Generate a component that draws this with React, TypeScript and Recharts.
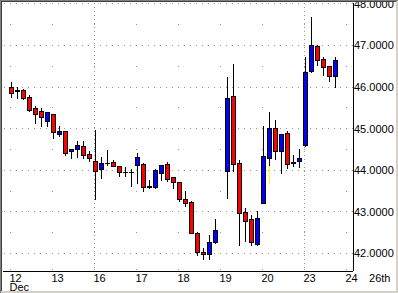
import React from 'react';
import { ComposedChart, Bar, XAxis, YAxis, CartesianGrid } from 'recharts';

// Hourly candles, one slot per hour (7 slots per trading day); null = no trade in that slot
const opens = [
  45.98, 45.91, 45.92, 45.75, 45.48, 45.41, 45.18,
  45.34, 44.85, 44.93, 44.45, 44.50, 44.58, 44.38,
  44.21, 44.03, 44.17, 44.18, 44.09, 43.94, 43.94,
  44.11, 44.14, 43.60, 43.58, 43.93, 44.14, 43.82,
  43.70, 43.30, 43.23, 42.48, 42.03, 41.98, 42.26,
  null, 43.98, 45.78, 44.16, 42.99, 42.82, 42.22,
  43.21, 44.28, 45.01, 44.44, 44.89, 44.16, 44.20,
  44.60, 46.38, 46.98, 46.66, 46.49, 46.25,
];
const highs = [
  46.12, 45.98, 45.93, 45.80, 45.53, 45.48, 45.39,
  45.35, 45.06, 44.94, 44.51, 44.70, 44.68, 44.44,
  44.96, 44.31, 44.48, 44.24, 44.10, 44.06, 44.02,
  44.40, 44.16, 43.76, 44.01, 44.12, 44.19, 43.83,
  43.71, 43.48, 43.26, 42.51, 42.13, 42.44, 42.81,
  null, 46.22, 46.54, 44.23, 43.08, 42.92, 43.02,
  45.06, 45.40, 45.20, 44.87, 44.94, 44.36, 44.50,
  46.72, 47.66, 47.01, 46.71, 46.50, 46.71,
];
const lows = [
  45.76, 45.73, 45.70, 45.41, 45.13, 45.06, 45.06,
  44.76, 44.80, 44.36, 44.28, 44.31, 44.29, 44.20,
  43.30, 43.81, 44.12, 44.08, 43.86, 43.84, 43.62,
  43.68, 43.50, 43.56, 43.57, 43.76, 43.72, 43.56,
  43.24, 43.14, 42.47, 41.96, 41.86, 41.86, 42.25,
  null, 43.33, 43.98, 42.18, 42.28, 42.18, 42.20,
  43.19, 43.69, 44.27, 43.93, 44.05, 44.10, 44.06,
  44.58, 46.36, 46.52, 46.28, 46.14, 45.98,
];
const closes = [
  45.84, 45.90, 45.72, 45.43, 45.34, 45.28, 45.38,
  44.90, 44.94, 44.40, 44.50, 44.60, 44.35, 44.28,
  43.98, 44.17, 44.17, 44.10, 43.94, 43.94, 43.94,
  44.30, 43.58, 43.58, 44.00, 44.11, 43.78, 43.70,
  43.30, 43.21, 42.48, 42.02, 41.98, 42.26, 42.56,
  null, 45.73, 44.15, 42.95, 42.78, 42.26, 42.84,
  44.34, 45.01, 44.44, 44.86, 44.15, 44.18, 44.29,
  46.35, 47.00, 46.65, 46.48, 46.25, 46.63,
];
// highlighted (yellow) part of one lower wick
const yellowWickSlots = [43];
const yellowWickTops = [44.08];
const yellowWickBottoms = [43.69];

const dayLabels = ['12', '13', '16', '17', '18', '19', '20', '23', '24', '26th'];
const dayStartSlots = [0, 7, 14, 21, 28, 35, 42, 49, 56, 63];
const monthLabel = 'Dec';
const priceTicks = [42, 43, 44, 45, 46, 47, 48];
const halfPriceLevels = [42.5, 43.5, 44.5, 45.5, 46.5, 47.5, 41.62];
const weekStartSlots = [14, 49];

const data = opens.map((o, i) => {
  const yi = yellowWickSlots.indexOf(i);
  return {
    i,
    open: o,
    high: highs[i],
    low: lows[i],
    close: closes[i],
    range: o == null ? null : [lows[i], highs[i]],
    yTop: yi >= 0 ? yellowWickTops[yi] : null,
    yBot: yi >= 0 ? yellowWickBottoms[yi] : null,
  };
});

const FONT = '"Liberation Sans", Arial, sans-serif';

const Candle = (props: any) => {
  const { x, y, width, height, payload } = props;
  if (!payload || payload.open == null || !(height > 0)) return null;
  const { open, high, low, close, yTop, yBot } = payload;
  const ppu = height / (high - low);
  const toY = (v: number) => Math.floor(y + (high - v) * ppu);
  const px = Math.floor(x + width / 2);
  const rH = toY(high);
  const rL = toY(low);
  const rO = toY(open);
  const rC = toY(close);
  const top = Math.min(rO, rC);
  const bot = Math.max(rO, rC);
  const up = close >= open;
  const parts: any[] = [];
  parts.push(<rect key="w" x={px} y={rH} width={1} height={rL - rH + 1} fill="#000" />);
  if (yTop != null && yBot != null) {
    const a = toY(yTop);
    const b = toY(yBot);
    parts.push(<rect key="yw" x={px} y={a} width={1} height={b - a + 1} fill="#ffff00" />);
  }
  parts.push(<rect key="b" x={px - 2} y={top} width={5} height={bot - top + 1} fill="#000" />);
  if (bot - top - 1 > 0) {
    parts.push(
      <rect key="f" x={px - 1} y={top + 1} width={3} height={bot - top - 1} fill={up ? '#0000ff' : '#ff0000'} />
    );
  }
  return <g>{parts}</g>;
};

const XTick = (props: any) => {
  const { x, y, payload } = props;
  const idx = dayStartSlots.indexOf(payload.value);
  if (idx < 0) return null;
  const label = dayLabels[idx];
  const last = idx === dayStartSlots.length - 1;
  return (
    <g>
      <text
        x={last ? x + 2 : x - 1}
        y={y + 11}
        textAnchor={last ? 'end' : 'start'}
        fontFamily={FONT}
        fontSize={11}
        fill="#000"
      >
        {label}
      </text>
      {idx === 0 && (
        <text x={x - 1} y={y + 20} textAnchor="start" fontFamily={FONT} fontSize={11} fill="#000">
          {monthLabel}
        </text>
      )}
    </g>
  );
};

const YTick = (props: any) => {
  const { x, y, payload } = props;
  return (
    <text x={x + 1} y={y + 4} textAnchor="start" fontFamily={FONT} fontSize={11} fill="#000">
      {Number(payload.value).toFixed(4)}
    </text>
  );
};

export default function App() {
  return (
    <div
      style={{
        position: 'fixed',
        left: 0,
        top: 0,
        width: 398,
        height: 293,
        background: '#ffffff',
        overflow: 'hidden',
      }}
    >
      <ComposedChart width={398} height={293} data={data} margin={{ top: 3, right: 0, bottom: 0, left: 3 }}>
        <CartesianGrid
          vertical={false}
          horizontalValues={priceTicks}
          stroke="#999999"
          strokeDasharray="1 5"
          strokeDashoffset={5}
          shapeRendering="crispEdges"
          fill="none"
        />
        <CartesianGrid
          vertical={false}
          horizontalValues={halfPriceLevels}
          stroke="#999999"
          strokeDasharray="1 41"
          strokeDashoffset={35}
          shapeRendering="crispEdges"
          fill="none"
        />
        <CartesianGrid
          horizontal={false}
          verticalValues={weekStartSlots}
          stroke="#999999"
          strokeDasharray="1 3"
          shapeRendering="crispEdges"
          fill="none"
        />
        <XAxis
          dataKey="i"
          type="number"
          domain={[-1.25, 57.0833]}
          allowDataOverflow
          ticks={dayStartSlots}
          interval={0}
          tick={<XTick />}
          tickLine={false}
          tickSize={0}
          tickMargin={0}
          axisLine={{ stroke: '#000', shapeRendering: 'crispEdges' }}
          height={22}
        />
        <YAxis
          orientation="right"
          type="number"
          domain={[41.579, 48.02]}
          allowDataOverflow
          ticks={priceTicks}
          interval={0}
          tick={<YTick />}
          tickLine={false}
          tickSize={0}
          tickMargin={0}
          axisLine={{ stroke: '#000', shapeRendering: 'crispEdges' }}
          width={45}
        />
        <Bar dataKey="range" shape={<Candle />} barSize={5} isAnimationActive={false} />
      </ComposedChart>
      <div style={{ position: 'absolute', left: 0, top: 0, width: 398, height: 1, background: '#808080' }} />
      <div style={{ position: 'absolute', left: 0, top: 1, width: 397, height: 1, background: '#404040' }} />
      <div style={{ position: 'absolute', left: 0, top: 0, width: 1, height: 293, background: '#808080' }} />
      <div style={{ position: 'absolute', left: 1, top: 1, width: 1, height: 291, background: '#404040' }} />
      <div style={{ position: 'absolute', left: 396, top: 1, width: 2, height: 292, background: '#d4d0c8' }} />
      <div style={{ position: 'absolute', left: 1, top: 291, width: 397, height: 2, background: '#d4d0c8' }} />
    </div>
  );
}
